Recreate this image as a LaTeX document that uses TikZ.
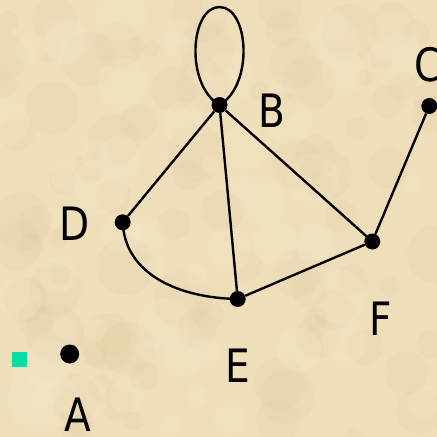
\documentclass[tikz,border=0pt]{standalone}
\usepackage{fontspec}
\setmainfont{DejaVu Sans}[FakeStretch=0.85]
\definecolor{parch}{RGB}{238,222,186}
\definecolor{parchdark}{RGB}{215,190,140}
\definecolor{parchlight}{RGB}{248,238,212}
\definecolor{mark}{RGB}{0,222,165}
\tikzset{
  vtx/.style={circle,fill=black,inner sep=0pt,minimum size=16pt},
  lbl/.style={inner sep=0pt,font=\fontsize{46}{46}\selectfont},
  edge/.style={line width=2.4pt,black}
}
\begin{document}
\begin{tikzpicture}[x=1pt,y=-1pt]
\useasboundingbox (0,0) rectangle (437,437);
\fill[parch] (0,0) rectangle (437,437);
\pgfmathsetseed{7}
\begin{scope}
\clip (0,0) rectangle (437,437);
\foreach \i in {1,...,90}{
  \pgfmathsetmacro{\px}{rnd*437}
  \pgfmathsetmacro{\py}{rnd*437}
  \pgfmathsetmacro{\pr}{8+rnd*22}
  \fill[parchdark,opacity=0.10] (\px,\py) circle (\pr);
}
\foreach \i in {1,...,60}{
  \pgfmathsetmacro{\px}{rnd*437}
  \pgfmathsetmacro{\py}{rnd*437}
  \pgfmathsetmacro{\pr}{8+rnd*20}
  \fill[parchlight,opacity=0.18] (\px,\py) circle (\pr);
}
\end{scope}
% vertices
\node[vtx] (B) at (219.5,105) {};
\node[vtx] (C) at (429.3,106) {};
\node[vtx] (D) at (122.7,222.3) {};
\node[vtx] (E) at (237.7,299) {};
\node[vtx] (F) at (372.3,241.5) {};
\node[vtx,minimum size=19pt] (A) at (69.7,354) {};
% labels
\node[lbl] (lB) at (271.5,110.5) {B};
\node[lbl] (lC) at (428,64.5) {C};
\node[lbl] (lD) at (74.3,223.3) {D};
\node[lbl] (lE) at (237.5,366) {E};
\node[lbl] (lF) at (381,319) {F};
\node[lbl] (lA) at (77.5,415) {A};
% marker
\node[fill=mark,inner sep=0pt,minimum size=15pt] (sq) at (19.5,359.5) {};
% edges
\draw[edge] (B) -- (D);
\draw[edge] (B) -- (E);
\draw[edge] (B) -- (F);
\draw[edge] (E) -- (F);
\draw[edge] (F) -- (C);
\draw[edge] (D.center) .. controls (125,275) and (180,298) .. (E.center);
\draw[edge] (B.center) .. controls (185,85) and (190,7) .. (219.5,7)
  .. controls (249,7) and (254,85) .. (B.center);
\end{tikzpicture}
\end{document}
